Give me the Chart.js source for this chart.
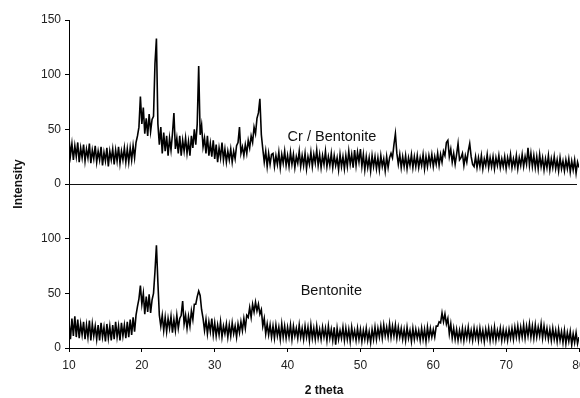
<!DOCTYPE html>
<html>
<head>
<meta charset="utf-8">
<script src="https://cdn.jsdelivr.net/npm/chart.js@4/dist/chart.umd.min.js"></script>
<style>
  html, body { margin: 0; padding: 0; background: #fff; overflow: hidden; }
  #wrap { width: 600px; height: 398px; }
</style>
</head>
<body>
<div id="wrap"><canvas id="xrdChart"></canvas></div>
<script>
// 2 theta scan grid (degrees)
const thetaStart = 10;
const thetaStep = 0.2;

// Cr / Bentonite intensity, one row per 2 degrees
const crBentonite = [
  42, 26, 37, 22, 35, 25, 38, 20, 33, 24,
  36, 21, 32, 24, 37, 19, 31, 23, 35, 20,
  30, 22, 34, 17, 29, 21, 33, 16, 30, 22,
  32, 18, 31, 21, 34, 19, 30, 22, 33, 20,
  32, 20, 33, 22, 35, 24, 38, 44, 52, 80,
  55, 70, 46, 60, 44, 64, 48, 59, 62, 110,
  133, 55, 36, 52, 28, 47, 30, 44, 26, 42,
  31, 46, 65, 32, 42, 28, 44, 26, 40, 30,
  42, 28, 39, 26, 44, 33, 50, 36, 55, 108,
  45, 54, 34, 42, 28, 44, 26, 37, 25, 40,
  23, 36, 20, 33, 24, 38, 22, 32, 20, 30,
  22, 32, 20, 30, 23, 35, 38, 52, 28, 34,
  26, 36, 28, 40, 33, 44, 38, 52, 46, 60,
  65, 78, 45, 32, 20, 30, 16, 28, 18, 27,
  28, 16, 26, 18, 29, 15, 27, 19, 30, 17,
  26, 16, 29, 18, 27, 15, 25, 19, 30, 16,
  26, 17, 28, 14, 25, 18, 29, 16, 27, 19,
  31, 17, 27, 15, 26, 18, 30, 16, 25, 17,
  28, 15, 26, 17, 24, 13, 27, 16, 25, 14,
  26, 16, 30, 18, 27, 15, 31, 17, 29, 20,
  32, 16, 27, 13, 25, 15, 24, 12, 26, 16,
  25, 14, 24, 13, 26, 16, 23, 12, 25, 15,
  24, 28, 24, 36, 46, 28, 18, 27, 15, 25,
  16, 26, 14, 24, 17, 27, 15, 25, 16, 26,
  15, 24, 17, 27, 14, 25, 16, 26, 18, 27,
  16, 25, 18, 28, 17, 27, 20, 30, 26, 38,
  40, 25, 32, 20, 28, 18, 27, 37, 22, 24,
  28, 17, 26, 20, 30, 37, 25, 18, 16, 25,
  15, 24, 16, 26, 14, 23, 17, 27, 15, 24,
  16, 25, 14, 24, 17, 26, 15, 23, 16, 25,
  14, 24, 17, 27, 15, 23, 16, 26, 14, 24,
  17, 27, 16, 25, 18, 33, 17, 28, 16, 26,
  15, 25, 14, 27, 16, 24, 13, 23, 15, 26,
  13, 23, 15, 25, 14, 22, 12, 24, 14, 21,
  12, 22, 14, 23, 11, 21, 13, 22, 10, 20,
  15
];

// Bentonite intensity, one row per 2 degrees
const bentonite = [
  24, 8, 27, 11, 29, 10, 26, 9, 22, 12,
  24, 8, 21, 10, 25, 7, 22, 11, 20, 8,
  21, 7, 23, 10, 19, 6, 22, 9, 20, 7,
  21, 8, 24, 10, 20, 7, 23, 11, 21, 9,
  24, 10, 26, 12, 28, 15, 30, 38, 45, 57,
  40, 50, 31, 47, 33, 49, 32, 44, 50, 70,
  94, 60, 30, 20, 30, 16, 28, 15, 27, 18,
  29, 14, 26, 16, 30, 18, 27, 30, 43, 22,
  30, 18, 29, 20, 34, 26, 40, 40, 47, 52,
  48, 35, 27, 16, 26, 13, 24, 15, 27, 12,
  23, 11, 21, 12, 24, 10, 20, 13, 22, 10,
  21, 11, 23, 13, 20, 10, 22, 14, 24, 16,
  27, 18, 30, 28, 37, 28, 40, 33, 42, 34,
  40, 31, 35, 20, 27, 13, 22, 12, 21, 10,
  20, 9, 21, 11, 19, 8, 22, 10, 20, 9,
  19, 10, 21, 8, 20, 11, 18, 9, 21, 10,
  18, 8, 20, 10, 19, 7, 21, 9, 18, 8,
  20, 9, 17, 8, 19, 10, 18, 7, 20, 9,
  17, 7, 19, 3, 18, 8, 16, 9, 19, 7,
  18, 8, 17, 6, 19, 9, 16, 7, 18, 8,
  17, 6, 16, 8, 18, 7, 15, 5, 17, 8,
  19, 8, 18, 10, 20, 9, 21, 11, 19, 10,
  22, 10, 20, 11, 21, 9, 19, 10, 18, 8,
  17, 7, 19, 9, 16, 6, 18, 8, 17, 9,
  16, 7, 18, 8, 17, 6, 19, 9, 18, 10,
  17, 10, 20, 20, 24, 23, 32, 24, 31, 22,
  27, 13, 22, 9, 18, 8, 17, 7, 16, 8,
  18, 7, 17, 9, 19, 8, 16, 7, 18, 9,
  17, 7, 18, 8, 16, 6, 17, 9, 18, 7,
  17, 8, 19, 7, 16, 9, 18, 7, 17, 8,
  16, 7, 17, 9, 18, 8, 19, 10, 20, 9,
  19, 10, 21, 9, 20, 11, 22, 10, 20, 9,
  21, 10, 19, 11, 22, 9, 20, 10, 18, 8,
  17, 7, 18, 8, 16, 6, 17, 7, 15, 5,
  16, 4, 14, 6, 15, 3, 13, 5, 14, 4,
  10
];

// the upper pattern sits on its own baseline, 150 counts up
const stackOffset = 150;
const yTicks = [0, 50, 100, 150, 200, 250, 300];
const xTicks = [10, 20, 30, 40, 50, 60, 70, 80];

// curve labels: [text, 2 theta, intensity on the own baseline, offset]
const curveLabels = [
  ["Cr / Bentonite", 40.0, 43, stackOffset],
  ["Bentonite", 41.8, 52, 0],
];

const FONT = "'Liberation Sans', Arial, sans-serif";

function toPoints(values, offset) {
  return values.map((v, i) => ({
    x: Math.round((thetaStart + i * thetaStep) * 10) / 10,
    y: v + offset,
  }));
}

// baseline of the upper pattern plus the two curve labels
const overlayPlugin = {
  id: "overlay",
  afterDatasetsDraw(chart) {
    const { ctx, scales } = chart;
    const x = scales.x;
    const y = scales.y;
    ctx.save();
    ctx.strokeStyle = "#111";
    ctx.lineWidth = 1;
    const yb = Math.round(y.getPixelForValue(stackOffset)) + 0.5;
    ctx.beginPath();
    ctx.moveTo(x.getPixelForValue(x.min), yb);
    ctx.lineTo(x.getPixelForValue(x.max) - 2, yb);
    ctx.stroke();

    ctx.fillStyle = "#111";
    ctx.font = "14.5px " + FONT;
    ctx.textAlign = "left";
    ctx.textBaseline = "middle";
    curveLabels.forEach(([text, tx, ty, off]) => {
      ctx.fillText(text, x.getPixelForValue(tx), y.getPixelForValue(ty + off));
    });
    ctx.restore();
  },
};

new Chart(document.getElementById("xrdChart"), {
  type: "line",
  data: {
    datasets: [
      {
        label: "Cr / Bentonite",
        data: toPoints(crBentonite, stackOffset),
        borderColor: "#000",
        borderWidth: 1.6,
        pointRadius: 0,
        tension: 0,
      },
      {
        label: "Bentonite",
        data: toPoints(bentonite, 0),
        borderColor: "#000",
        borderWidth: 1.6,
        pointRadius: 0,
        tension: 0,
      },
    ],
  },
  options: {
    responsive: true,
    maintainAspectRatio: false,
    animation: false,
    parsing: false,
    layout: { padding: { top: 20, right: 21, bottom: 0, left: 0 } },
    plugins: {
      legend: { display: false },
      tooltip: { enabled: false },
    },
    scales: {
      x: {
        type: "linear",
        min: 10,
        max: 80,
        afterBuildTicks: (s) => { s.ticks = xTicks.map((v) => ({ value: v })); },
        afterFit: (s) => { s.height = 50; },
        border: { color: "#000", width: 1 },
        grid: { drawOnChartArea: false, drawTicks: true, tickLength: 4, tickColor: "#000" },
        ticks: { color: "#222", padding: 6, font: { family: FONT, size: 12 }, maxRotation: 0 },
        title: {
          display: true,
          text: "2 theta",
          color: "#111",
          padding: { top: 0, bottom: 0 },
          font: { family: FONT, size: 12, weight: "bold" },
        },
      },
      y: {
        min: 0,
        max: 300,
        afterBuildTicks: (s) => { s.ticks = yTicks.map((v) => ({ value: v })); },
        afterFit: (s) => { s.width = 69; },
        border: { color: "#000", width: 1 },
        grid: { drawOnChartArea: false, drawTicks: true, tickLength: 4, tickColor: "#000" },
        ticks: {
          color: "#222",
          padding: 4,
          font: { family: FONT, size: 12 },
          callback: (v) => (v >= stackOffset ? v - stackOffset : v),
        },
        title: {
          display: true,
          text: "Intensity",
          color: "#111",
          padding: { top: 11, bottom: 0 },
          font: { family: FONT, size: 12, weight: "bold" },
        },
      },
    },
  },
  plugins: [overlayPlugin],
});
</script>
</body>
</html>
